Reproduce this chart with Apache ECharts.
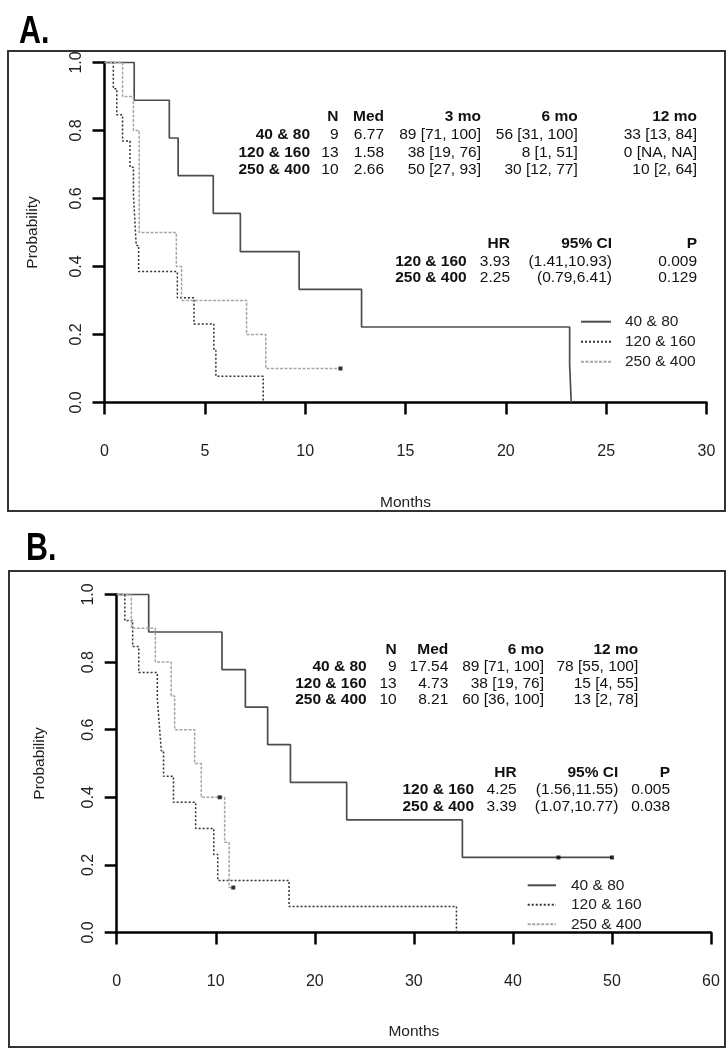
<!DOCTYPE html>
<html>
<head>
<meta charset="utf-8">
<script src="https://cdn.jsdelivr.net/npm/echarts@6/dist/echarts.min.js"></script>
<style>
html,body{margin:0;padding:0;background:#fff;}
#chart{width:728px;height:1050px;}
</style>
</head>
<body>
<div id="chart"></div>
<script>
// ---------- DATA ----------
const groups = ['40 & 80', '120 & 160', '250 & 400'];

// Panel A: Kaplan-Meier step points (time in months, survival probability)
const A_t40  = [0, 1.48, 3.23, 3.67, 5.42, 6.77, 9.70, 12.81, 23.18, 23.26];
const A_s40  = [1, 0.889, 0.778, 0.667, 0.556, 0.444, 0.333, 0.222, 0.111, 0];
const A_t120 = [0, 0.44, 0.61, 0.90, 1.27, 1.44, 1.51, 1.58, 1.70, 3.63, 4.46, 5.45, 5.55, 7.91];
const A_s120 = [1, 0.923, 0.846, 0.769, 0.692, 0.615, 0.538, 0.462, 0.385, 0.308, 0.231, 0.154, 0.077, 0];
const A_t250 = [0, 0.90, 1.44, 1.73, 3.58, 3.84, 7.08, 8.04, 11.76];
const A_s250 = [1, 0.9, 0.8, 0.5, 0.4, 0.3, 0.2, 0.1, 0.1];
const A_cens250_t = [11.76];
const A_cens250_s = [0.1];

// Panel B
const B_t40  = [0, 3.23, 10.63, 12.99, 15.24, 17.54, 23.22, 34.90, 50.00];
const B_s40  = [1, 0.889, 0.778, 0.667, 0.556, 0.444, 0.333, 0.222, 0.222];
const B_cens40_t = [44.6, 50.0];
const B_cens40_s = [0.222, 0.222];
const B_t120 = [0, 0.82, 1.61, 2.23, 4.10, 4.30, 4.50, 4.73, 5.73, 7.97, 9.80, 10.20, 17.40, 34.30];
const B_s120 = [1, 0.923, 0.846, 0.769, 0.692, 0.615, 0.538, 0.462, 0.385, 0.308, 0.231, 0.154, 0.077, 0];
const B_t250 = [0, 1.48, 3.90, 5.50, 5.85, 7.87, 8.54, 10.90, 11.35, 11.77];
const B_s250 = [1, 0.9, 0.8, 0.7, 0.6, 0.5, 0.4, 0.267, 0.133, 0.133];
const B_cens250_t = [10.40, 11.77];
const B_cens250_s = [0.4, 0.133];

// Axis ticks
const A_xTicks = [0, 5, 10, 15, 20, 25, 30];
const B_xTicks = [0, 10, 20, 30, 40, 50, 60];
const yTicks = [0, 0.2, 0.4, 0.6, 0.8, 1.0];

// Tables panel A
const A_tblHead = ['N', 'Med', '3 mo', '6 mo', '12 mo'];
const A_N    = ['9', '13', '10'];
const A_Med  = ['6.77', '1.58', '2.66'];
const A_3mo  = ['89 [71, 100]', '38 [19, 76]', '50 [27, 93]'];
const A_6mo  = ['56 [31, 100]', '8 [1, 51]', '30 [12, 77]'];
const A_12mo = ['33 [13, 84]', '0 [NA, NA]', '10 [2, 64]'];
const hrHead = ['HR', '95% CI', 'P'];
const hrRows = ['120 & 160', '250 & 400'];
const A_HR = ['3.93', '2.25'];
const A_CI = ['(1.41,10.93)', '(0.79,6.41)'];
const A_P  = ['0.009', '0.129'];

// Tables panel B
const B_tblHead = ['N', 'Med', '6 mo', '12 mo'];
const B_N    = ['9', '13', '10'];
const B_Med  = ['17.54', '4.73', '8.21'];
const B_6mo  = ['89 [71, 100]', '38 [19, 76]', '60 [36, 100]'];
const B_12mo = ['78 [55, 100]', '15 [4, 55]', '13 [2, 78]'];
const B_HR = ['4.25', '3.39'];
const B_CI = ['(1.56,11.55)', '(1.07,10.77)'];
const B_P  = ['0.005', '0.038'];

// ---------- BUILD ----------
const FONT = "'Liberation Sans', Arial, sans-serif";
const zip = (t, s) => t.map((v, i) => [v, s[i]]);

const styles = [
  { color: '#4d4d4d', width: 1.7, type: 'solid' },
  { color: '#333333', width: 1.5, type: [2, 2] },
  { color: '#a6a6a6', width: 1.5, type: [3, 1.5] }
];

function kmSeries(name, idx, data, axisIdx) {
  return {
    type: 'line', name: name, step: 'end', data: data,
    xAxisIndex: axisIdx, yAxisIndex: axisIdx,
    symbol: 'none', showSymbol: false, clip: false, silent: true,
    lineStyle: { color: styles[idx].color, width: styles[idx].width, type: styles[idx].type },
    itemStyle: { color: styles[idx].color },
    z: 3 + idx
  };
}
function censSeries(data, axisIdx) {
  return {
    type: 'scatter', data: data, xAxisIndex: axisIdx, yAxisIndex: axisIdx,
    symbol: 'rect', symbolSize: 4, itemStyle: { color: '#000' }, clip: false, silent: true, z: 10
  };
}

function xAxisCfg(gridIndex, max, interval, offset, margin, nameGap) {
  return {
    type: 'value', gridIndex: gridIndex, min: 0, max: max, interval: interval,
    position: 'bottom', offset: offset,
    name: 'Months', nameLocation: 'middle', nameGap: nameGap,
    nameTextStyle: { fontFamily: FONT, fontSize: 15.5, color: '#222' },
    axisLine: { show: true, lineStyle: { color: '#000', width: 2.5 } },
    axisTick: { show: true, length: 12, lineStyle: { color: '#000', width: 2.5 } },
    axisLabel: { fontFamily: FONT, fontSize: 16, color: '#222', margin: margin },
    splitLine: { show: false }
  };
}
function yAxisCfg(gridIndex, nameGap) {
  return {
    type: 'value', gridIndex: gridIndex, min: 0, max: 1, interval: 0.2,
    name: 'Probability', nameLocation: 'middle', nameGap: nameGap, nameRotate: 90,
    nameTextStyle: { fontFamily: FONT, fontSize: 15.5, color: '#222' },
    axisLine: { show: true, lineStyle: { color: '#000', width: 2.5 } },
    axisTick: { show: true, length: 12, lineStyle: { color: '#000', width: 2.5 } },
    axisLabel: { fontFamily: FONT, fontSize: 16, color: '#222', rotate: 90, margin: 20,
      formatter: v => v.toFixed(1) },
    splitLine: { show: false }
  };
}

// Text helpers
const graphics = [];
function txt(s, x, y, bold, size) {
  graphics.push({
    type: 'text', silent: true,
    style: { text: s, x: x, y: y, align: 'right', verticalAlign: 'middle',
      fill: '#111', font: (bold ? 'bold ' : '') + (size || 15.5) + 'px ' + FONT }
  });
}
function column(values, xRight, ys, bold) { values.forEach((v, i) => txt(v, xRight, ys[i], bold)); }

// Panel A summary table
(function () {
  const hy = 117, ry = [135, 152.5, 170];
  const cx = [338.5, 384, 481, 577.7, 697];
  A_tblHead.forEach((h, i) => txt(h, cx[i], hy, true));
  column(groups, 310, ry, true);
  column(A_N, cx[0], ry); column(A_Med, cx[1], ry);
  column(A_3mo, cx[2], ry); column(A_6mo, cx[3], ry); column(A_12mo, cx[4], ry);
  const hy2 = 244, ry2 = [261.5, 278];
  const cx2 = [510, 612, 697];
  hrHead.forEach((h, i) => txt(h, cx2[i], hy2, true));
  column(hrRows, 466.7, ry2, true);
  column(A_HR, cx2[0], ry2); column(A_CI, cx2[1], ry2); column(A_P, cx2[2], ry2);
})();
// Panel B summary table
(function () {
  const hy = 650, ry = [667, 683.5, 700];
  const cx = [396.7, 448.3, 544, 638.3];
  B_tblHead.forEach((h, i) => txt(h, cx[i], hy, true));
  column(groups, 366.7, ry, true);
  column(B_N, cx[0], ry); column(B_Med, cx[1], ry);
  column(B_6mo, cx[2], ry); column(B_12mo, cx[3], ry);
  const hy2 = 773, ry2 = [790, 806.5];
  const cx2 = [516.7, 618.3, 670];
  hrHead.forEach((h, i) => txt(h, cx2[i], hy2, true));
  column(hrRows, 474, ry2, true);
  column(B_HR, cx2[0], ry2); column(B_CI, cx2[1], ry2); column(B_P, cx2[2], ry2);
})();

// Panel frames and letters
graphics.push({ type: 'rect', silent: true, shape: { x: 8, y: 51, width: 717, height: 460 },
  style: { fill: 'none', stroke: '#333', lineWidth: 2 } });
graphics.push({ type: 'rect', silent: true, shape: { x: 9, y: 571, width: 716, height: 476 },
  style: { fill: 'none', stroke: '#333', lineWidth: 2 } });
graphics.push({ type: 'text', silent: true, x: 19, y: 14, scaleX: 0.8, scaleY: 1,
  style: { text: 'A.', x: 0, y: 0, align: 'left', verticalAlign: 'top',
  fill: '#000', font: "bold 38px 'Liberation Sans', sans-serif" } });
graphics.push({ type: 'text', silent: true, x: 26, y: 531, scaleX: 0.8, scaleY: 1,
  style: { text: 'B.', x: 0, y: 0, align: 'left', verticalAlign: 'top',
  fill: '#000', font: "bold 38px 'Liberation Sans', sans-serif" } });

function legendCfg(left, top, itemWidth, gap, pad) {
  return {
    data: groups, orient: 'vertical', left: left, top: top, padding: 0,
    itemWidth: itemWidth, itemHeight: 14, itemGap: gap, selectedMode: false,
    itemStyle: { opacity: 0 },
    textStyle: { fontFamily: FONT, fontSize: 15.5, color: '#222', padding: [0, 0, 0, pad] }
  };
}

const option = {
  animation: false,
  backgroundColor: '#fff',
  grid: [
    { left: 104.5, top: 62.5, width: 602, height: 340 },
    { left: 116.7, top: 594.5, width: 594.3, height: 338 }
  ],
  xAxis: [
    xAxisCfg(0, 30, 5, 14.5, 27, 78),
    xAxisCfg(1, 60, 10, 13.2, 28, 78)
  ],
  yAxis: [ yAxisCfg(0, 64), yAxisCfg(1, 69) ],
  legend: [
    legendCfg(580, 313.7, 30, 4, 9),
    legendCfg(526.7, 877.3, 28.3, 3.5, 10)
  ],
  series: [
    kmSeries(groups[0], 0, zip(A_t40, A_s40), 0),
    kmSeries(groups[1], 1, zip(A_t120, A_s120), 0),
    kmSeries(groups[2], 2, zip(A_t250, A_s250), 0),
    censSeries(zip(A_cens250_t, A_cens250_s), 0),
    kmSeries(groups[0], 0, zip(B_t40, B_s40), 1),
    kmSeries(groups[1], 1, zip(B_t120, B_s120), 1),
    kmSeries(groups[2], 2, zip(B_t250, B_s250), 1),
    censSeries(zip(B_cens40_t, B_cens40_s), 1),
    censSeries(zip(B_cens250_t, B_cens250_s), 1)
  ],
  graphic: graphics
};

const chart = echarts.init(document.getElementById('chart'), null, { renderer: 'canvas' });
chart.setOption(option);
</script>
</body>
</html>
